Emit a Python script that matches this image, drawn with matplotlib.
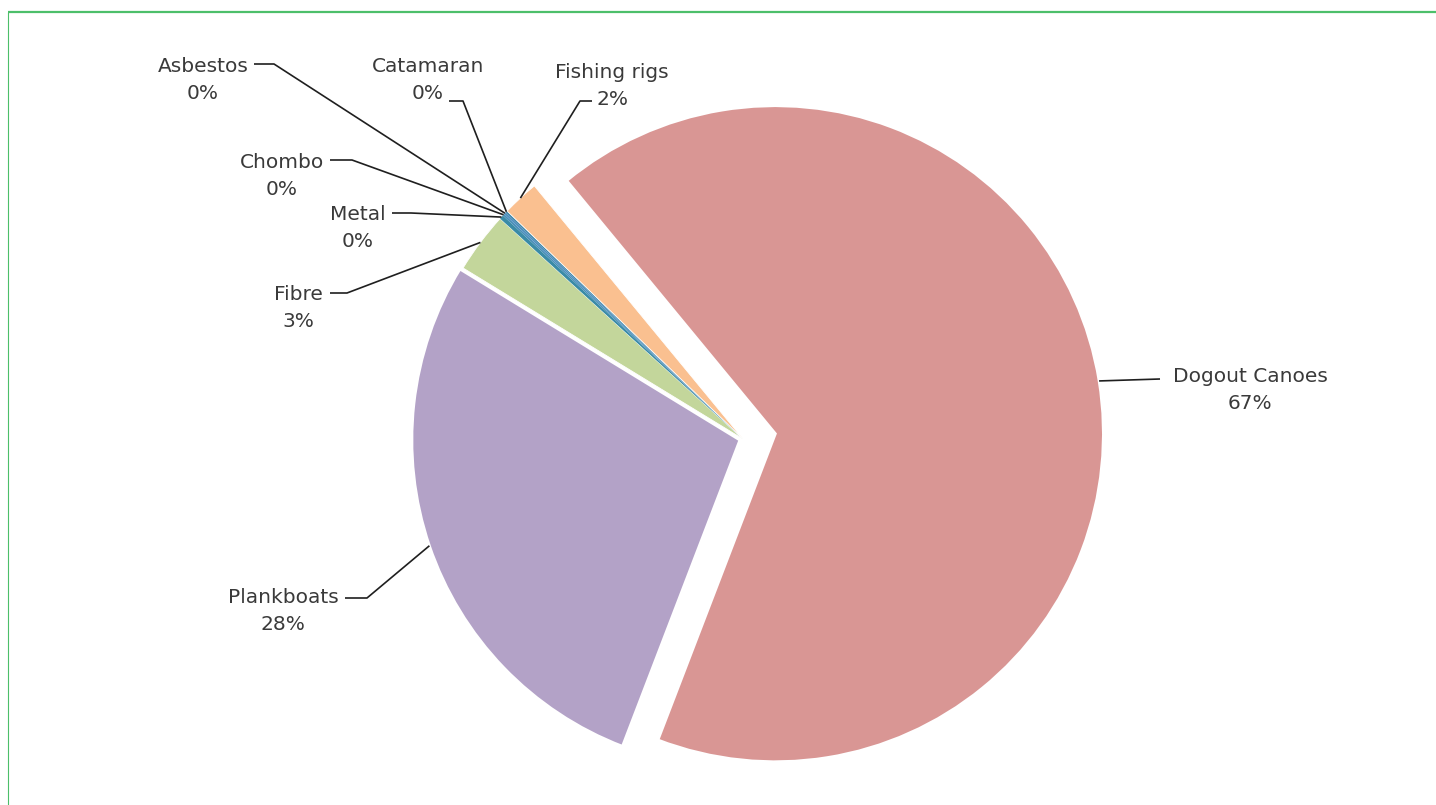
import numpy as np
import matplotlib.pyplot as plt

# boat types and their share of the fleet (%)
boat_types = ["Dogout Canoes", "Plankboats", "Fibre", "Metal",
              "Chombo", "Asbestos", "Catamaran", "Fishing rigs"]
shares = [66.8, 27.9, 3.0, 0.2, 0.1, 0.1, 0.1, 1.8]
slice_colors = ["#D99694", "#B3A2C7", "#C3D69B", "#3A8BA6",
                "#4A90B8", "#4F8FC0", "#3F86A8", "#FAC090"]
explode_frac = [0.1, 0.01, 0, 0, 0, 0, 0, 0]
edge_widths = [2, 2, 0.6, 0, 0, 0, 0, 0.6]

# label block centre (figure pixels from top-left) and leader start points
label_pos = {
    "Dogout Canoes": (1250, 390),
    "Plankboats": (283, 611),
    "Fibre": (298, 308),
    "Metal": (358, 228),
    "Chombo": (282, 176),
    "Asbestos": (203, 80),
    "Catamaran": (428, 80),
    "Fishing rigs": (612, 86),
}
leader_start = {
    "Dogout Canoes": [(1160, 379)],
    "Plankboats": [(345, 598), (367, 598)],
    "Fibre": [(330, 293), (347, 293)],
    "Metal": [(392, 213), (411, 213)],
    "Chombo": [(330, 160), (352, 160)],
    "Asbestos": [(254, 64), (274, 64)],
    "Catamaran": [(449, 101), (463, 101)],
    "Fishing rigs": [(592, 101), (580, 101)],
}

W, H = 1436, 805
fig = plt.figure(figsize=(W / 100, H / 100), dpi=100)
ax = fig.add_axes([0, 0, 1, 1])

cx, cy, radius = 743, H - 439, 328
# pie explode offsets are in data units, so scale by the radius
explode = [f * radius for f in explode_frac]
wedges, _ = ax.pie(shares, colors=slice_colors, explode=explode,
                   startangle=129.5, counterclock=False,
                   center=(cx, cy), radius=radius, frame=True,
                   wedgeprops=dict(edgecolor="white"))
for w, lw in zip(wedges, edge_widths):
    w.set_linewidth(lw)
ax.set_xlim(0, W)
ax.set_ylim(0, H)
ax.set_aspect("equal")
ax.axis("off")

text_kw = dict(fontsize=14.5, color="#3A3A3A", family="DejaVu Sans",
               ha="center", va="center")
for name, share, w in zip(boat_types, shares, wedges):
    mid = np.deg2rad((w.theta1 + w.theta2) / 2)
    wx, wy = w.center
    end = (wx + w.r * np.cos(mid), wy + w.r * np.sin(mid))
    pts = [(x, H - y) for x, y in leader_start[name]] + [end]
    xs, ys = zip(*pts)
    ax.plot(xs, ys, color="#1F1F1F", lw=1.2, solid_capstyle="butt")
    tx, ty = label_pos[name]
    ax.text(tx, H - ty, f"{name}\n{share:.0f}%", linespacing=1.55, **text_kw)

# green frame around the figure panel
ax.plot([8, W], [H - 12, H - 12], color="#4CBF6A", lw=1.6,
        solid_capstyle="butt")
ax.plot([8, 8], [0, H - 12], color="#4CBF6A", lw=0.8,
        solid_capstyle="butt")

fig.savefig("out.png", dpi=100, facecolor="white")
